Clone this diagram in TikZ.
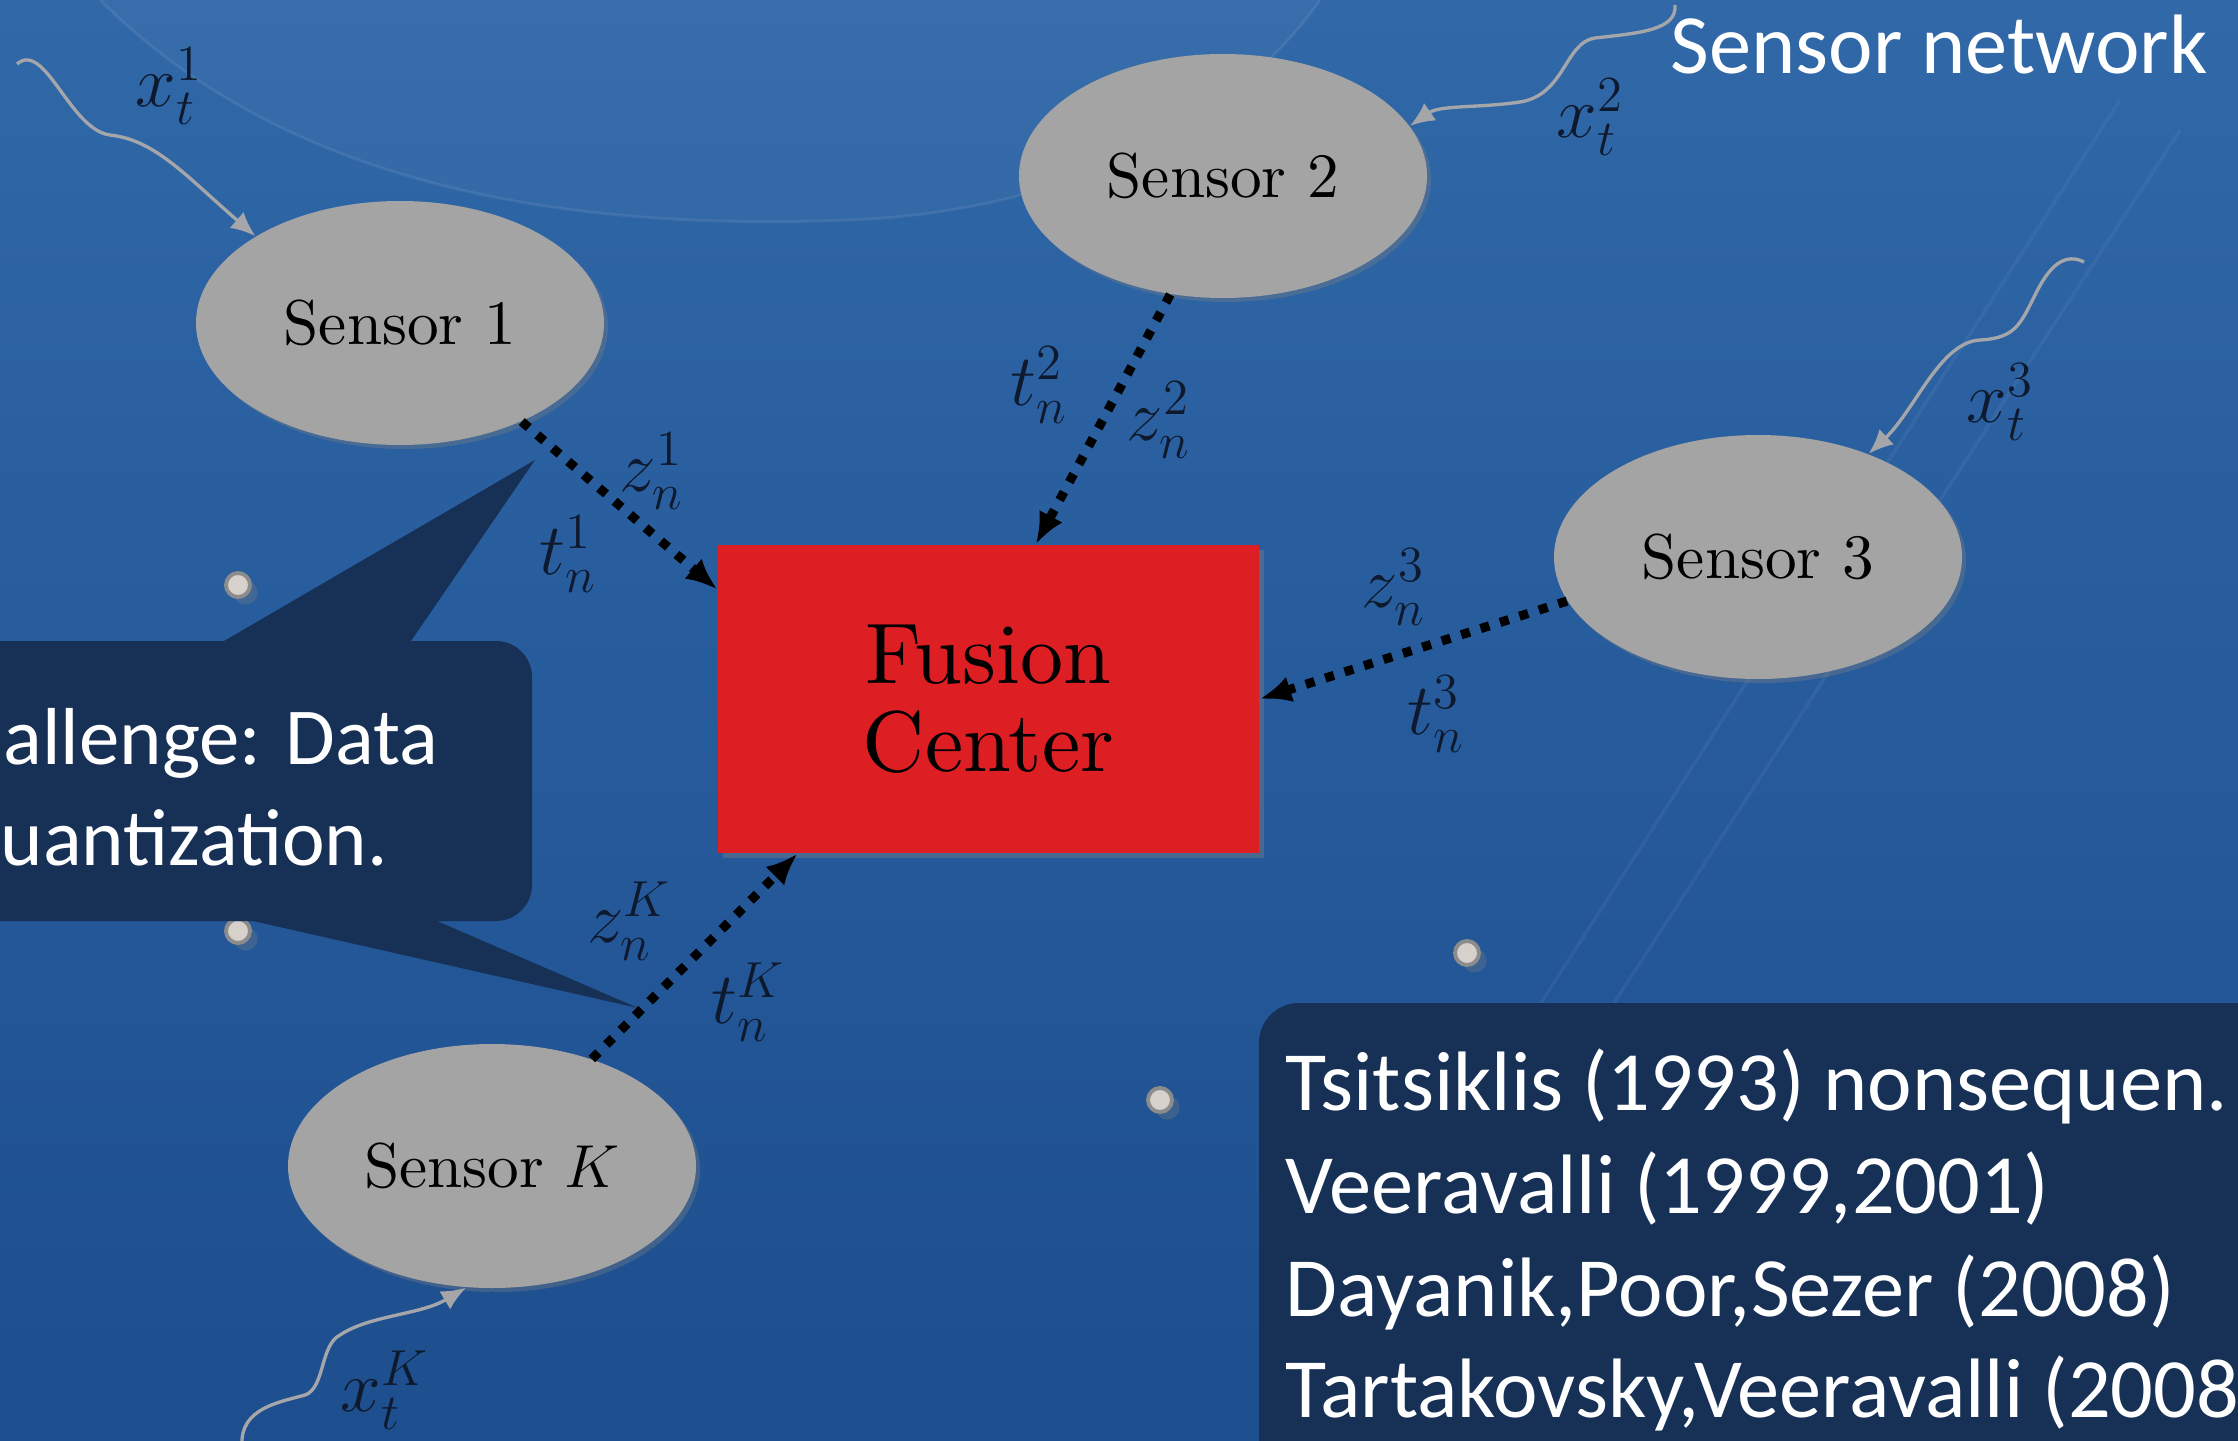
\documentclass[tikz,border=0pt]{standalone}
\usepackage{fontspec}
\newfontfamily\slidefont{Carlito}
\newfontfamily\cmroman{lmroman10-regular}[Extension=.otf]
\usetikzlibrary{shapes.geometric,arrows.meta,shadows}

\definecolor{slidetop}{RGB}{48,104,168}
\definecolor{slidebot}{RGB}{29,78,142}
\definecolor{calloutnavy}{RGB}{22,48,86}
\definecolor{sensorgray}{RGB}{164,164,164}
\definecolor{fusionred}{RGB}{221,31,36}
\definecolor{wavegray}{RGB}{165,166,170}
\definecolor{dotgray}{RGB}{214,209,203}
\definecolor{labelink}{RGB}{15,25,45}

\begin{document}
\begin{tikzpicture}[
  sensor/.style={ellipse,fill=sensorgray,minimum width=4.08cm,minimum height=2.44cm,inner sep=0pt,
    font=\cmroman\fontsize{18}{22}\selectfont,drop shadow={shadow xshift=0.04cm,shadow yshift=-0.04cm,opacity=0.35}},
  fusion/.style={rectangle,fill=fusionred,minimum width=5.41cm,minimum height=3.08cm,align=center,
    font=\cmroman\fontsize{24.5}{25}\selectfont,drop shadow={shadow xshift=0.05cm,shadow yshift=-0.05cm,opacity=0.4}},
  link/.style={line width=2.6pt,dash pattern=on 2.6pt off 3.2pt,-{Latex[length=9pt,width=7.5pt]}},
  wave/.style={wavegray,line width=0.95pt,-{Latex[length=7pt,width=6pt]}},
  lbl/.style={text=labelink,font=\fontsize{21}{25}\selectfont,inner sep=0pt},
  slidetext/.style={text=white,font=\slidefont\fontsize{24}{29}\selectfont,inner sep=0pt,anchor=base west}
]
\useasboundingbox (0,0) rectangle (22.38,-14.41);
\clip (0,0) rectangle (22.38,-14.41);

% background
\shade[top color=slidetop,bottom color=slidebot] (0,0) rectangle (22.38,-14.41);
\fill[white,opacity=0.035] (1.0,0) .. controls (3.0,-2.0) and (6.0,-2.3) .. (8.5,-2.2)
  .. controls (11,-2.1) and (12.5,-1.0) .. (13.2,0) -- cycle;
\draw[white,opacity=0.08,line width=0.8pt] (1.0,0) .. controls (3.0,-2.0) and (6.0,-2.3) .. (8.5,-2.2)
  .. controls (11,-2.1) and (12.5,-1.0) .. (13.2,0);
\draw[white,opacity=0.05,line width=1pt] (15.3,-10.2) -- (21.2,-1.0);
\draw[white,opacity=0.05,line width=1pt] (15.9,-10.4) -- (21.8,-1.3);

\foreach \p in {(2.38,-5.85),(2.38,-9.31),(14.67,-9.53),(11.60,-11.00)}
  \filldraw[fill=dotgray,draw=black!45,line width=1.1pt,drop shadow={opacity=0.3}] \p circle (0.12);

% callout
\fill[calloutnavy] (2.24,-6.41) -- (5.35,-4.60) -- (4.11,-6.41) -- cycle;
\fill[calloutnavy] (2.53,-9.21) -- (6.38,-10.08) -- (4.37,-9.21) -- cycle;
\fill[calloutnavy,rounded corners=0.36cm] (-0.5,-6.41) rectangle (5.32,-9.21);
\node[slidetext,font=\slidefont\fontsize{23}{29}\selectfont] (chal1) at (0.03,-7.64) {allenge: Data};
\node[slidetext,font=\slidefont\fontsize{23}{29}\selectfont] (chal2) at (0.00,-8.65) {uantization.};

% references
\fill[calloutnavy,rounded corners=0.4cm] (12.59,-10.03) rectangle (23,-15);
\node[slidetext] (ref1) at (12.85,-11.10) {Tsitsiklis (1993) nonsequen.};
\node[slidetext] (ref2) at (12.85,-12.13) {Veeravalli (1999,2001)};
\node[slidetext] (ref3) at (12.85,-13.16) {Dayanik,Poor,Sezer (2008)};
\node[slidetext] (ref4) at (12.85,-14.17) {Tartakovsky,Veeravalli (2008};

\node[slidetext] (title) at (16.70,-0.74) {Sensor network};

% network
\node[sensor] (s1) at (4.00,-3.23) {Sensor 1};
\node[sensor] (s2) at (12.23,-1.76) {Sensor 2};
\node[sensor] (s3) at (17.58,-5.57) {Sensor 3};
\node[sensor] (sK) at (4.92,-11.66) {Sensor $K$};
\node[fusion] (fc) at (9.885,-6.99) {Fusion\\Center};

\draw[link] (s1.-39) -- (fc.158);
\draw[link] (s2.-114) -- (fc.73);
\draw[link] (s3.193) -- (fc.east);
\draw[link] (sK.47) -- (fc.-141);

\coordinate (w1) at (0.17,-0.64);
\coordinate (w2) at (16.75,-0.05);
\coordinate (w3) at (20.84,-2.62);
\coordinate (wK) at (2.42,-14.45);
\draw[wave] (w1) .. controls (0.45,-0.40) and (0.70,-1.30) .. (1.10,-1.35)
  .. controls (1.55,-1.40) and (1.85,-1.75) .. (s1.149);
\draw[wave] (w2) .. controls (16.77,-0.30) and (16.40,-0.33) .. (15.95,-0.38)
  .. controls (15.65,-0.42) and (15.65,-0.95) .. (15.20,-1.02)
  .. controls (14.80,-1.08) and (14.40,-1.05) .. (s2.15);
\draw[wave] (w3) .. controls (20.60,-2.50) and (20.45,-2.75) .. (20.35,-2.95)
  .. controls (20.20,-3.25) and (20.15,-3.38) .. (19.80,-3.40)
  .. controls (19.40,-3.42) and (19.15,-4.10) .. (s3.43);
\draw[wave] (wK) .. controls (2.40,-14.08) and (2.80,-14.02) .. (3.05,-13.95)
  .. controls (3.25,-13.88) and (3.20,-13.45) .. (3.40,-13.35)
  .. controls (3.70,-13.15) and (4.20,-13.15) .. (sK.258);

\node[lbl] (x1) at (1.69,-0.86) {$x_t^1$};
\node[lbl] (x2) at (15.90,-1.17) {$x_t^2$};
\node[lbl] (x3) at (20.00,-4.02) {$x_t^3$};
\node[lbl] (xK) at (3.85,-13.90) {$x_t^K$};
\node[lbl] (z1) at (6.52,-4.71) {$z_n^1$};
\node[lbl] (t1) at (5.68,-5.54) {$t_n^1$};
\node[lbl] (t2) at (10.39,-3.85) {$t_n^2$};
\node[lbl] (z2) at (11.59,-4.20) {$z_n^2$};
\node[lbl] (z3) at (13.94,-5.87) {$z_n^3$};
\node[lbl] (t3) at (14.36,-7.14) {$t_n^3$};
\node[lbl] (zK) at (6.29,-9.21) {$z_n^K$};
\node[lbl] (tK) at (7.48,-10.02) {$t_n^K$};

\end{tikzpicture}
\end{document}
